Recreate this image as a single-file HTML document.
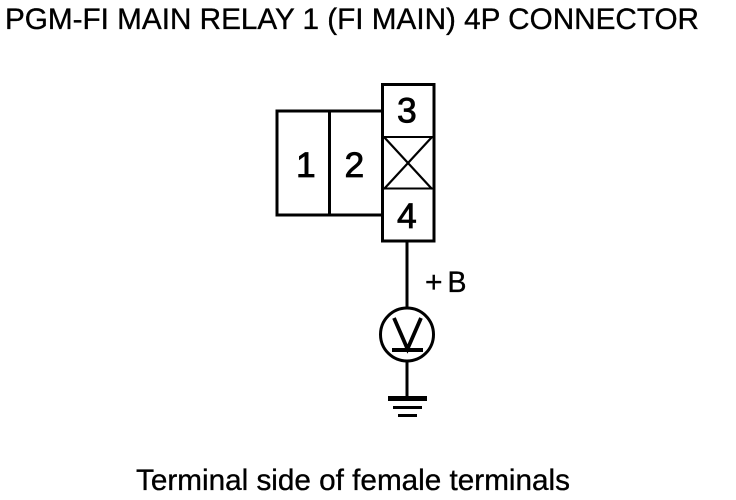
<!DOCTYPE html>
<html><head><meta charset="utf-8"><style>
html,body{margin:0;padding:0;background:#fff}
#c{position:relative;width:736px;height:500px;overflow:hidden}
svg{position:absolute;left:0;top:0}
text{font-family:"Liberation Sans",sans-serif;fill:#000;stroke:#000;stroke-width:.35px}
text.d{stroke-width:.8px}
</style></head><body><div id="c">
<svg width="736" height="500" viewBox="0 0 736 500" shape-rendering="crispEdges">
<text x="5" y="29" font-size="29.500" textLength="694" lengthAdjust="spacingAndGlyphs">PGM-FI MAIN RELAY 1 (FI MAIN) 4P CONNECTOR</text>
<g fill="none" stroke="#000">
<path d="M382 111H277V215H382" stroke-width="3"/>
<rect x="382.500" y="84.500" width="51.500" height="156.500" stroke-width="3"/>
<path d="M329.500 111V215" stroke-width="3"/>
<path d="M383 137H433M383 188.500H433" stroke-width="2"/>
<path d="M407.200 241V309M407.200 361V397" stroke-width="3"/>
</g>
<g fill="none" stroke="#000" shape-rendering="geometricPrecision">
<path d="M384 137L432 189M432 137L384 189" stroke-width="2.200"/>
<circle cx="407" cy="334.500" r="26.500" stroke-width="3"/>
<path d="M394 318L407.500 349L421 318" stroke-width="3.800"/>
</g>
<g fill="#000">
<rect x="392" y="348" width="31" height="4"/>
<rect x="388" y="396" width="39" height="5"/>
<rect x="393" y="406" width="29" height="3"/>
<rect x="398" y="414" width="19" height="3"/>
</g>
<text class="d" x="397" y="122.500" font-size="35.500">3</text>
<text class="d" x="296" y="177" font-size="35.500">1</text>
<text class="d" x="344.500" y="177" font-size="35.500">2</text>
<text class="d" x="397" y="228" font-size="35.500">4</text>
<text x="425" y="292" font-size="30">+</text>
<text x="447.500" y="292" font-size="30" textLength="19" lengthAdjust="spacingAndGlyphs">B</text>
<text x="136" y="490" font-size="29.500" textLength="434" lengthAdjust="spacingAndGlyphs">Terminal side of female terminals</text>
</svg></div></body></html>
